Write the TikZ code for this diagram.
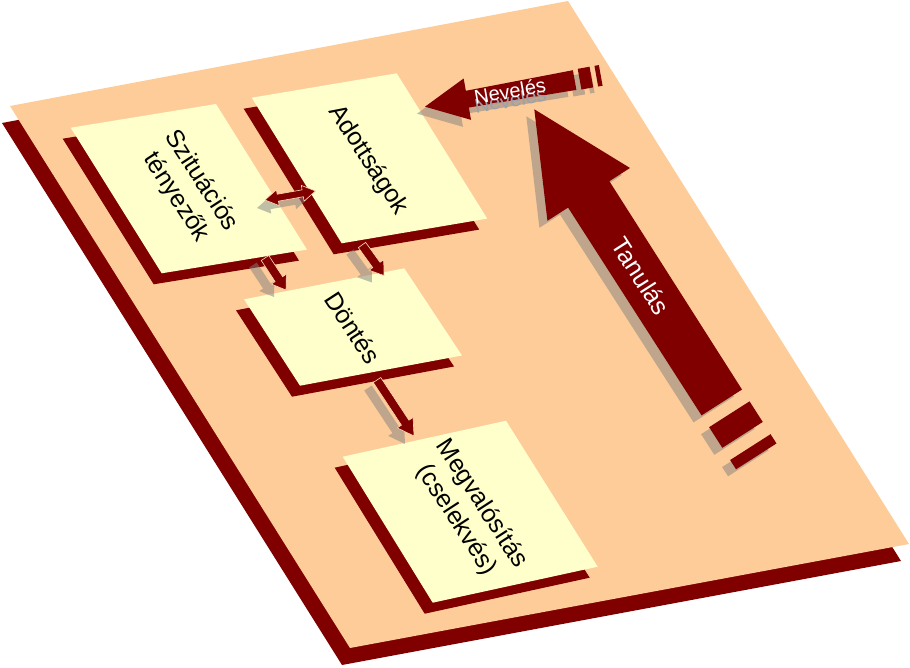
\documentclass[tikz,border=0pt]{standalone}
\usepackage{fontspec}
\setmainfont{Liberation Sans}
\usetikzlibrary{calc}
\definecolor{peach}{RGB}{253,204,153}
\definecolor{dred}{RGB}{128,0,0}
\definecolor{lyel}{RGB}{255,255,204}
\definecolor{shtext}{RGB}{160,160,172}
\tikzset{
  shadowfill/.style={fill=gray, fill opacity=0.5},
  arrowfill/.style={fill=dred, draw=peach!70!white, line width=0.6pt},
  bigarrow/.style={fill=dred},
  boxlabel/.style={font=\fontsize{25}{30}\selectfont, align=center, text=black, inner sep=0pt},
  arrowlabel/.style={font=\fontsize{25}{30}\selectfont, text=white, inner sep=0pt},
  nevlabel/.style={font=\fontsize{20}{24}\selectfont, text=white, inner sep=0pt},
  nevshadow/.style={font=\fontsize{20}{24}\selectfont, text=shtext, inner sep=0pt}
}
% single block arrow: #1 start, #2 tip, #3 shaft half-width, #4 head half-width, #5 head length, #6 style
\newcommand{\blk}[6]{%
  \coordinate (#2h) at ($(#2)!#5!(#1)$);
  \path[#6] ($(#1)!#3!90:(#2)$) -- ($(#2h)!#3!-90:(#1)$) -- ($(#2h)!#4!-90:(#1)$) -- (#2)
     -- ($(#2h)!#4!90:(#1)$) -- ($(#2h)!#3!90:(#1)$) -- ($(#1)!#3!-90:(#2)$) -- cycle;
}
% double block arrow
\newcommand{\dblk}[6]{%
  \coordinate (#1h) at ($(#1)!#5!(#2)$);
  \coordinate (#2h) at ($(#2)!#5!(#1)$);
  \path[#6] (#1) -- ($(#1h)!#4!90:(#2)$) -- ($(#1h)!#3!90:(#2)$) -- ($(#2h)!#3!-90:(#1)$)
     -- ($(#2h)!#4!-90:(#1)$) -- (#2) -- ($(#2h)!#4!90:(#1)$) -- ($(#2h)!#3!90:(#1)$)
     -- ($(#1h)!#3!-90:(#2)$) -- ($(#1h)!#4!-90:(#2)$) -- cycle;
}
\newcommand{\cardshadow}[4]{\fill[dred] ($(#1)+(-8,11)$) -- ($(#2)+(-8,11)$) -- ($(#3)+(-8,11)$) -- ($(#4)+(-8,11)$) -- cycle;}
\newcommand{\cardface}[4]{\fill[lyel] (#1) -- (#2) -- (#3) -- (#4) -- cycle;}
\begin{document}
\begin{tikzpicture}[x=1pt,y=-1pt]
\useasboundingbox (0,0) rectangle (910,667);
\fill[white] (0,0) rectangle (910,667);

% sheet and its shadow
\fill[dred] (2,123) -- (560,18) -- (901,561) -- (342,665) -- cycle;
\fill[peach] (10,106) -- (568,1) -- (909,544) -- (350,648) -- cycle;

% cards
\cardshadow{70.7,127.7}{216,104}{307,249.6}{161.7,273.3}
\cardshadow{251.7,97.7}{396.7,73.3}{487.2,218.6}{341.7,243.3}
\cardshadow{244,299.3}{404.3,268.3}{462,355.5}{300,385.7}
\cardshadow{342.7,456.7}{506,420.7}{597.7,566.7}{432.7,602.7}
\cardface{70.7,127.7}{216,104}{307,249.6}{161.7,273.3}
\cardface{251.7,97.7}{396.7,73.3}{487.2,218.6}{341.7,243.3}
\cardface{244,299.3}{404.3,268.3}{462,355.5}{300,385.7}
\cardface{342.7,456.7}{506,420.7}{597.7,566.7}{432.7,602.7}

% connector end points
\coordinate (dl) at (265,200);
\coordinate (dr) at (315.5,191);
\coordinate (bs) at (265,258);
\coordinate (bt) at (286,290);
\coordinate (cs) at (362,245);
\coordinate (ct) at (384,275.5);
\coordinate (es) at (377,380);
\coordinate (et) at (414,436);
\coordinate (sdl) at ($(dl)+(-8,8)$);
\coordinate (sdr) at ($(dr)+(-8,8)$);
\coordinate (sbs) at ($(bs)+(-12,7)$);
\coordinate (sbt) at ($(bt)+(-12,7)$);
\coordinate (scs) at ($(cs)+(-12,7)$);
\coordinate (sct) at ($(ct)+(-12,7)$);
\coordinate (ses) at ($(es)+(-9,8)$);
\coordinate (set) at ($(et)+(-9,8)$);

% connector shadows
\dblk{sdl}{sdr}{3.5pt}{8pt}{13pt}{shadowfill}
\blk{sbs}{sbt}{4.5pt}{9pt}{13pt}{shadowfill}
\blk{scs}{sct}{4.5pt}{9pt}{13pt}{shadowfill}
\blk{ses}{set}{4.5pt}{9.5pt}{16pt}{shadowfill}
% connectors
\dblk{dl}{dr}{3.5pt}{8pt}{13pt}{arrowfill}
\blk{bs}{bt}{4.5pt}{9pt}{13pt}{arrowfill}
\blk{cs}{ct}{4.5pt}{9pt}{13pt}{arrowfill}
\blk{es}{et}{4.5pt}{9.5pt}{16pt}{arrowfill}

% card labels
\node[boxlabel, rotate=-57] (tsz) at (188.5,189) {Szituációs\\tényezők};
\node[boxlabel, rotate=-57] (tad) at (368,160) {Adottságok};
\node[boxlabel, rotate=-57] (tdo) at (353,327.5) {Döntés};
\node[boxlabel, rotate=-57] (tme) at (469,512) {Megvalósítás\\(cselekvés)};

% big arrow shadows
\begin{scope}[shift={(417,113.7)}, rotate=10.1]
  \path[shadowfill] (0,0) -- (43,-21) -- (43,-8.5) -- (152,-10) -- (152,10) -- (43,8.5) -- (43,21) -- cycle;
  \path[shadowfill] (157,-10.5) rectangle (169,10.5);
  \path[shadowfill] (174,-10.5) rectangle (178.5,10.5);
\end{scope}
\begin{scope}[shift={(526.3,116.3)}, rotate=-57.4]
  \path[shadowfill] (0,0) -- (101,-49) -- (101,-24.5) -- (348,-24) -- (348,24) -- (101,24.5) -- (101,49) -- cycle;
  \path[shadowfill] (362,-24) rectangle (386.5,24);
  \path[shadowfill] (401,-24) rectangle (412,24);
\end{scope}
% big arrows
\begin{scope}[shift={(425,106.7)}, rotate=10.1]
  \path[bigarrow] (0,0) -- (43,-21) -- (43,-8.5) -- (152,-10) -- (152,10) -- (43,8.5) -- (43,21) -- cycle;
  \path[bigarrow] (157,-10.5) rectangle (169,10.5);
  \path[bigarrow] (174,-10.5) rectangle (178.5,10.5);
\end{scope}
\begin{scope}[shift={(534.3,109.3)}, rotate=-57.4]
  \path[bigarrow] (0,0) -- (101,-49) -- (101,-24.5) -- (348,-24) -- (348,24) -- (101,24.5) -- (101,49) -- cycle;
  \path[bigarrow] (362,-24) rectangle (386.5,24);
  \path[bigarrow] (401,-24) rectangle (412,24);
\end{scope}

% arrow labels
\node[nevshadow, rotate=10.1] (tnevs) at (510.5,100) {Nevelés};
\node[nevlabel, rotate=10.1] (tnev) at (510,91) {Nevelés};
\node[arrowlabel, rotate=-57.4] (ttan) at (641,276) {Tanulás};
\end{tikzpicture}
\end{document}
